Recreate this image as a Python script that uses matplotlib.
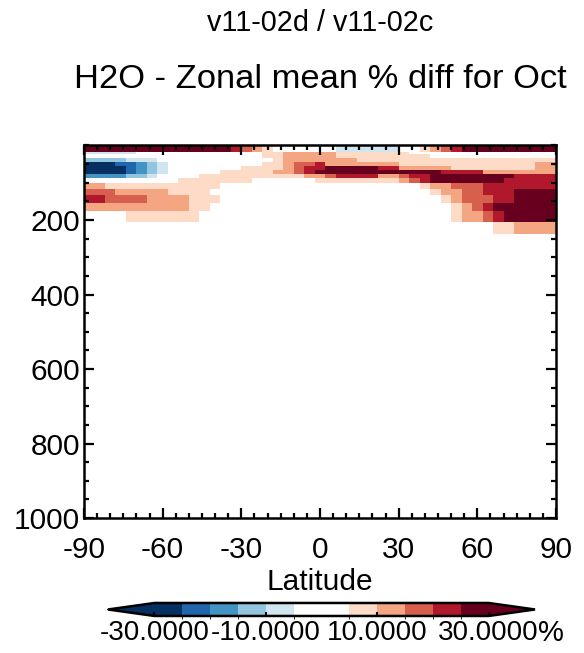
import numpy as np
import matplotlib
matplotlib.use("Agg")
import matplotlib.pyplot as plt
from matplotlib.colors import ListedColormap, BoundaryNorm
from matplotlib.ticker import MultipleLocator

plt.rcParams['font.family'] = ['Liberation Sans', 'DejaVu Sans']
plt.rcParams['axes.unicode_minus'] = False

# contour levels (% diff) and the fill colours between them
levels = [-30, -25, -20, -15, -10, -5, 5, 10, 15, 20, 25, 30]
colors = ['#053061', '#2166ac', '#4393c3', '#92c5de', '#d1e5f0', '#ffffff',
          '#fddbc7', '#f4a582', '#d6604d', '#b2182b', '#67001f']

# grid: 4 degree latitude cells, pressure edges (hPa)
lat_edges = np.arange(-90, 91, 4)
p_edges = [0, 17, 22, 33, 44, 55, 66, 76, 87, 100, 116, 132, 154, 176, 205, 238]

# one letter per cell (45 latitude cells per pressure row)
code_value = {'N': -27.5, 'B': -22.5, 'M': -17.5, 'L': -12.5, 'l': -7.5, '.': 0.0,
              'p': 7.5, 's': 12.5, 'c': 17.5, 'r': 22.5, 'D': 27.5}
grid = [
    "D" * 14 + "rcsp" + "." * 6 + "l" * 6 + ".." + "pscr" + "D" * 9,
    "l" * 5 + "." * 12 + "pp" + "s" * 5 + "p" * 7 + "." * 14,
    "." * 17 + "pp" + "s" * 5 + "p" * 9 + "." * 12,
    "LLLLlll" + "." * 11 + "p" + "s" * 7 + "p" * 19,
    "NNNBBMLl" + "." * 9 + "pp" + "scc" + "r" + "s" * 7 + "p" * 13 + "ss",
    "NNNNBMLl" + "." * 7 + "pppp" + "scr" + "r" + "D" * 5 + "rr" + "s" * 5 + "p" * 8 + "ss",
    "NNNNBMLl" + "." * 5 + "p" * 5 + "s" + "sc" + "r" + "D" * 12 + "r" * 4 + "s" * 7,
    "MMMMLLl" + "." * 4 + "p" * 10 + "ss" + "c" + "rrrr" + "ss" + "c" + "rr" + "D" * 8 + "rrrr",
    "." * 9 + "p" * 7 + "." * 6 + "p" * 8 + "scr" + "D" * 7 + "r" * 5,
    "ss" + "p" * 11 + "." * 19 + "p" + "ss" + "ccc" + "r" * 7,
    "ccc" + "s" * 5 + "p" * 4 + "." * 21 + "p" + "ss" + "cc" + "rrr" + "DDDD",
    "rr" + "cccc" + "ssss" + "ppp" + "." * 21 + "p" + "s" + "ccc" + "rr" + "DDDD",
    "s" * 10 + "pp" + "." * 23 + "p" + "s" + "c" + "r" + "D" * 6,
    "...." + "p" * 7 + "." * 24 + "p" + "ss" + "c" + "r" + "D" * 5,
    "." * 39 + "pp" + "ssss",
]

values = np.array([[code_value[ch] for ch in row] for row in grid])

cmap = ListedColormap(colors)
cmap.set_under(colors[0])
cmap.set_over(colors[-1])
norm = BoundaryNorm(levels, cmap.N)

fig = plt.figure(figsize=(5.84, 6.53), dpi=100)
ax = fig.add_axes([0.1438, 0.2067, 0.8082, 0.5705])

ax.pcolormesh(lat_edges, p_edges, values, cmap=cmap, norm=norm)

ax.set_xlim(-90, 90)
ax.set_ylim(1000, 0)
ax.set_xticks([-90, -60, -30, 0, 30, 60, 90])
ax.set_yticks([200, 400, 600, 800, 1000])
ax.xaxis.set_minor_locator(MultipleLocator(5))
ax.yaxis.set_minor_locator(MultipleLocator(50))
ax.tick_params(which='both', direction='in', top=True, right=True, width=1.6,
               labelsize=21.5)
ax.tick_params(which='major', length=7)
ax.tick_params(which='minor', length=3.5)
ax.tick_params(axis='x', pad=13)
ax.tick_params(axis='y', pad=3)
for s in ax.spines.values():
    s.set_linewidth(1.8)
ax.set_xlabel('Latitude', fontsize=21.5, labelpad=3)

fig.text(0.548, 0.965, 'v11-02d / v11-02c', ha='center', va='center', fontsize=20.7)
fig.text(0.548, 0.879, 'H2O - Zonal mean % diff for Oct', ha='center', va='center',
         fontsize=24.8)

# colour bar
cax = fig.add_axes([0.1849, 0.0567, 0.7312, 0.0199])
cb = fig.colorbar(plt.cm.ScalarMappable(norm=norm, cmap=cmap), cax=cax,
                  orientation='horizontal', extend='both', extendfrac=0.139,
                  spacing='proportional')
cb.set_ticks([-30, -10, 10, 30])
cb.set_ticklabels(['-30.0000', '-10.0000', '10.0000', '30.0000'])
cb.ax.tick_params(direction='in', length=3, width=1.5, labelsize=20, pad=3)
cb.outline.set_linewidth(1.8)
fig.text(0.944, 0.031, '%', ha='center', va='center', fontsize=21)

fig.savefig('out.png', dpi=100)
